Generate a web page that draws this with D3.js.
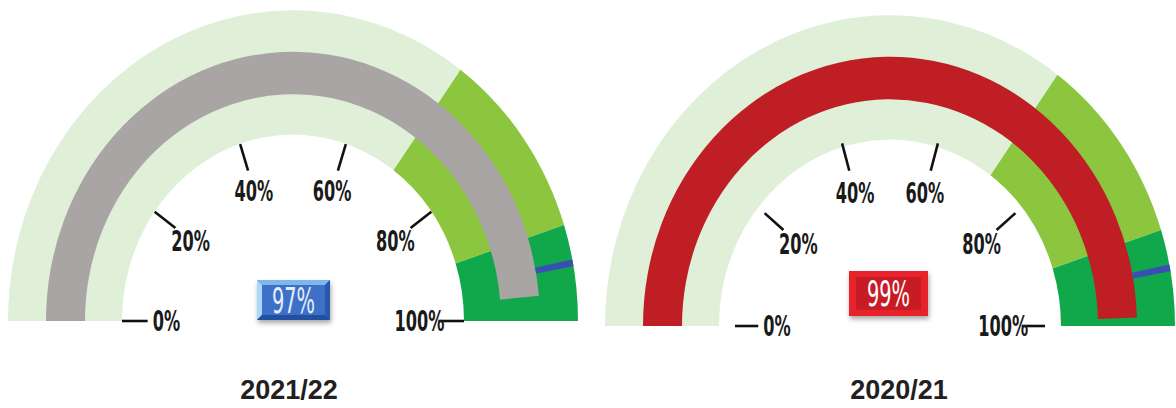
<!DOCTYPE html>
<html>
<head>
<meta charset="utf-8"/>
<script src="https://cdn.jsdelivr.net/npm/d3@7/dist/d3.min.js"></script>
<style>
body { margin: 0; background: #fff; }
.tick-label { font: bold 29px "Liberation Sans Narrow", "DejaVu Sans Condensed", sans-serif; fill: #1a1a1a; }
.box-label { font: 36px "Liberation Sans Narrow", "DejaVu Sans Condensed", sans-serif; }
.title { font: bold 27px "Liberation Sans", Arial, sans-serif; fill: #231f20; }
</style>
</head>
<body>
<svg width="1176" height="408"></svg>
<script>
// data
var years = ["2021/22", "2020/21"];
var values = [97, 99];
var targets = [94, 94];
var bandStops = [0, 70, 90, 100];
var bandColors = ["#dfefd8", "#8cc63f", "#10a84b"];
var valueColors = ["#aaa5a5", "#be1e24"];
var tickValues = [0, 20, 40, 60, 80, 100];
var tickLabels = ["0%", "20%", "40%", "60%", "80%", "100%"];

// layout of the two gauges
var layout = [
  { cx: 293, cy: 321, trx: 171, try_: 186, lk: 0.74, box: { x: 257, y: 280, w: 73, h: 40 }, style: "blue", tx: 289 },
  { cx: 890, cy: 326, trx: 155, try_: 192, lk: 0.73, box: { x: 849, y: 271, w: 79, h: 45 }, style: "red", tx: 899 }
];

var svg = d3.select("svg");
var sy = 1.09;           // gauges are a little taller than wide
var rIn = 171, rOut = 285, vIn = 208, vOut = 247;

var angle = d3.scaleLinear().domain([0, 100]).range([-Math.PI / 2, Math.PI / 2]);
var arc = d3.arc();

var shadow = svg.append("defs").append("filter").attr("id", "shadow")
    .attr("x", "-20%").attr("y", "-20%").attr("width", "140%").attr("height", "160%");
shadow.append("feDropShadow").attr("dx", 1).attr("dy", 3).attr("stdDeviation", 2.5)
    .attr("flood-color", "#000").attr("flood-opacity", 0.35);

years.forEach(function(year, i) {
  var L = layout[i];
  var g = svg.append("g").attr("transform", "translate(" + L.cx + "," + L.cy + ") scale(1," + sy + ")");

  // coloured bands
  g.selectAll("path.band")
    .data(d3.range(bandColors.length))
    .enter().append("path")
      .attr("class", "band")
      .attr("fill", function(d) { return bandColors[d]; })
      .attr("d", function(d) {
        return arc({ innerRadius: rIn, outerRadius: rOut,
                     startAngle: angle(bandStops[d]), endAngle: angle(bandStops[d + 1]) });
      });

  // value bar
  g.append("path")
    .attr("fill", valueColors[i])
    .attr("d", arc({ innerRadius: vIn, outerRadius: vOut,
                     startAngle: angle(0), endAngle: angle(values[i]) }));

  // target marker
  var ta = angle(targets[i]);
  g.append("path")
    .attr("fill", "#3a4fb3")
    .attr("d", arc({ innerRadius: vOut, outerRadius: rOut,
                     startAngle: ta - 0.011, endAngle: ta + 0.011 }));

  // ticks and labels
  var t = svg.append("g").attr("transform", "translate(" + L.cx + "," + L.cy + ")");
  function pos(v, k) {
    var a = angle(v);
    return [Math.sin(a) * L.trx * k, -Math.cos(a) * L.try_ * k];
  }
  t.selectAll("line")
    .data(tickValues)
    .enter().append("line")
      .attr("x1", function(d) { return pos(d, 1)[0]; })
      .attr("y1", function(d) { return pos(d, 1)[1]; })
      .attr("x2", function(d) { return pos(d, 0.85)[0]; })
      .attr("y2", function(d) { return pos(d, 0.85)[1]; })
      .attr("stroke", "#111")
      .attr("stroke-width", 2.6);

  t.selectAll("g.lbl")
    .data(tickValues)
    .enter().append("g")
      .attr("class", "lbl")
      .attr("transform", function(d) {
        var p = pos(d, L.lk);
        return "translate(" + p[0] + "," + p[1] + ") scale(0.62,1)";
      })
    .append("text")
      .attr("class", "tick-label")
      .attr("text-anchor", "middle")
      .attr("dy", "0.36em")
      .text(function(d, j) { return tickLabels[j]; });

  // value box
  var b = L.box;
  var bx = svg.append("g").attr("filter", "url(#shadow)");
  if (L.style === "blue") {
    var e = 5;
    bx.append("rect").attr("x", b.x).attr("y", b.y).attr("width", b.w).attr("height", b.h).attr("fill", "#3566c0");
    var pts = {
      top: [[b.x, b.y], [b.x + b.w, b.y], [b.x + b.w - e, b.y + e], [b.x + e, b.y + e]],
      left: [[b.x, b.y], [b.x + e, b.y + e], [b.x + e, b.y + b.h - e], [b.x, b.y + b.h]],
      right: [[b.x + b.w, b.y], [b.x + b.w, b.y + b.h], [b.x + b.w - e, b.y + b.h - e], [b.x + b.w - e, b.y + e]],
      bottom: [[b.x, b.y + b.h], [b.x + e, b.y + b.h - e], [b.x + b.w - e, b.y + b.h - e], [b.x + b.w, b.y + b.h]]
    };
    var bev = { top: "#7fb6ec", left: "#a9d8f8", right: "#2a58ad", bottom: "#244f9f" };
    Object.keys(pts).forEach(function(k) {
      bx.append("polygon").attr("points", pts[k].join(" ")).attr("fill", bev[k]);
    });
    bx.append("rect").attr("x", b.x + e).attr("y", b.y + e).attr("width", b.w - 2 * e).attr("height", b.h - 2 * e)
      .attr("fill", "#3d6fc7");
  } else {
    bx.append("rect").attr("x", b.x).attr("y", b.y).attr("width", b.w).attr("height", b.h).attr("fill", "#e8222a");
    bx.append("rect").attr("x", b.x + 7).attr("y", b.y + 6).attr("width", b.w - 14).attr("height", b.h - 12)
      .attr("fill", "#c71c25");
  }
  svg.append("g")
      .attr("transform", "translate(" + (b.x + b.w / 2) + "," + (b.y + b.h / 2) + ") scale(0.6,1)")
    .append("text")
      .attr("class", "box-label")
      .attr("text-anchor", "middle")
      .attr("dy", "0.36em")
      .attr("fill", L.style === "blue" ? "#e6eef9" : "#ffffff")
      .text(values[i] + "%");

  // title
  svg.append("text")
    .attr("class", "title")
    .attr("x", L.tx)
    .attr("y", 399)
    .attr("text-anchor", "middle")
    .text(year);
});
</script>
</body>
</html>
